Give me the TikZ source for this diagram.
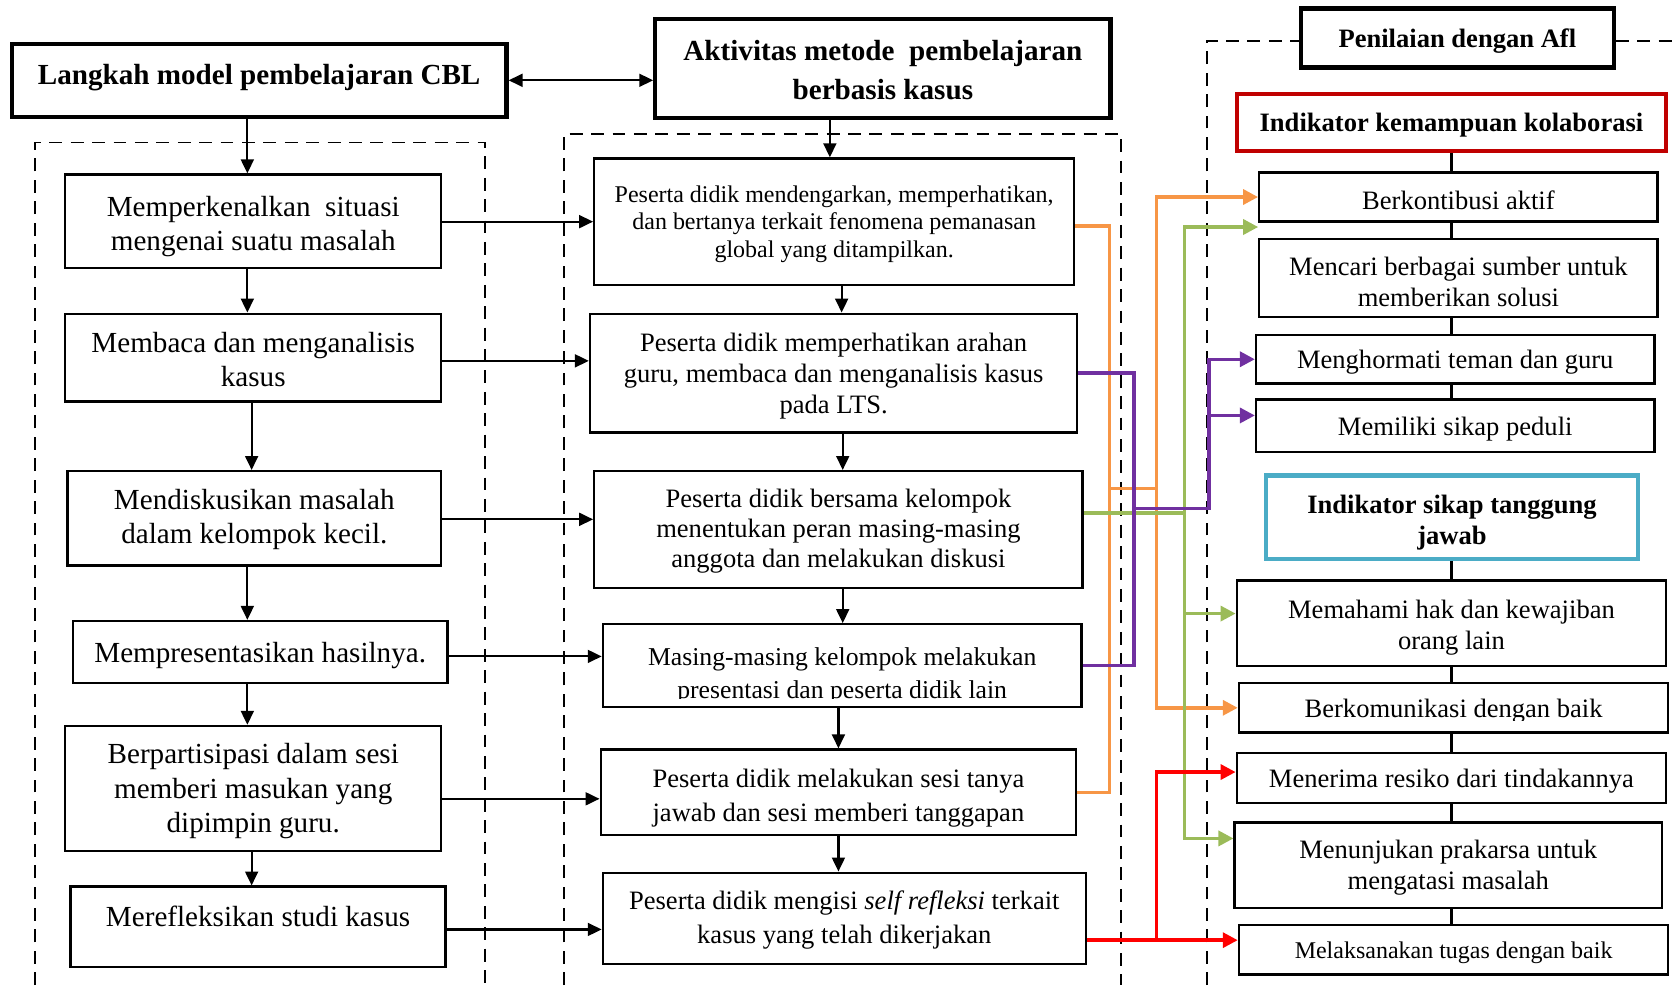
\documentclass[tikz,border=0pt]{standalone}
\usepackage{fontspec}
\setmainfont{Liberation Serif}
\usetikzlibrary{arrows.meta}
\definecolor{oranye}{HTML}{F79646}
\definecolor{hijau}{HTML}{9BBB59}
\definecolor{ungu}{HTML}{7030A0}
\definecolor{merah}{HTML}{FF0000}
\definecolor{merahtua}{HTML}{C00000}
\definecolor{biru}{HTML}{4BACC6}
\newcommand{\turun}[1]{\rule{0pt}{#1}}

\begin{document}
\begin{tikzpicture}[x=0.5pt,y=-0.5pt,
    kotak/.style={draw,line width=1.1pt,align=center,inner sep=0pt,
      execute at begin node={\rule{0pt}{0.92em}}},
    kiri/.style={kotak,font=\fontsize{13.6}{16}\selectfont},
    tengah/.style={kotak,font=\fontsize{12.4}{14.5}\selectfont},
    kanan/.style={kotak,font=\fontsize{12.4}{14.5}\selectfont},
    judul/.style={kotak,line width=2pt,font=\bfseries\fontsize{13.6}{18.5}\selectfont},
    panah/.style={line width=1pt,-{Triangle[length=6.5pt,width=6pt]}},
    warna/.style={line width=1.6pt},
    ujung/.style={-{Triangle[length=7pt,width=7pt]}},
    garis/.style={line width=1pt},
    putus/.style={line width=0.8pt,dash pattern=on 6pt off 4pt}]
  \useasboundingbox (0,0) rectangle (1568,920);

  % kerangka putus-putus
  \draw[putus] (33,920) -- (33,133) -- (453,133) -- (453,920);
  \draw[putus] (527,920) -- (527,125) -- (1047,125) -- (1047,920);

  % judul
  \node[judul,minimum width=231pt,minimum height=34pt,text depth=8.5pt] (h1) at (242,75) {Langkah model pembelajaran CBL};
  \node[judul,minimum width=212.5pt,minimum height=46pt] (h2) at (824.5,64) {\turun{10.9pt}Aktivitas metode\ \ pembelajaran\\berbasis kasus};
  \node[judul,font=\bfseries\fontsize{12.4}{14.5}\selectfont,minimum width=146pt,minimum height=27.5pt] (h3) at (1361,35.5) {Penilaian dengan Afl};
  \draw[putus] (1127,920) -- (1127,38) -- (h3.west |- 0,38);
  \draw[putus] (h3.east |- 0,38) -- (1568,38);

  % langkah CBL
  \node[kiri,minimum width=175.5pt,minimum height=43.5pt,text depth=0pt] (l1) at (236.5,206.5) {\turun{11.3pt}Memperkenalkan\ \ situasi\\mengenai suatu masalah};
  \node[kiri,minimum width=175.5pt,minimum height=41pt] (l2) at (236.5,334) {\turun{11.3pt}Membaca dan menganalisis\\kasus};
  \node[kiri,minimum width=174.5pt,minimum height=44pt,text depth=2pt] (l3) at (237.5,484) {Mendiskusikan masalah\\dalam kelompok kecil.};
  \node[kiri,minimum width=175pt,minimum height=29pt] (l4) at (243,609) {Mempresentasikan hasilnya.};
  \node[kiri,minimum width=175.5pt,minimum height=58.5pt,text depth=0.5pt] (l5) at (236.5,736.5) {Berpartisipasi dalam sesi\\memberi masukan yang\\dipimpin guru.};
  \node[kiri,minimum width=175pt,minimum height=37.5pt,text depth=12.5pt] (l6) at (241,865.5) {Merefleksikan studi kasus};

  % aktivitas
  \node[kotak,font=\fontsize{11.2}{12.75}\selectfont,minimum width=224pt,minimum height=59pt,text depth=0pt] (m1) at (779,207) {Peserta didik mendengarkan, memperhatikan,\\dan bertanya terkait fenomena pemanasan\\global yang ditampilkan.};
  \node[tengah,minimum width=227.5pt,minimum height=55.5pt,text depth=0pt] (m2) at (778.5,348.5) {Peserta didik memperhatikan arahan\\guru, membaca dan menganalisis kasus\\pada LTS.};
  \node[tengah,font=\fontsize{12.4}{14}\selectfont,minimum width=228pt,minimum height=54.5pt,text depth=1.2pt] (m3) at (783,494.5) {Peserta didik bersama kelompok\\menentukan peran masing-masing\\anggota dan melakukan diskusi};
  \node[tengah,minimum width=223.5pt,minimum height=38.5pt] (m4) at (786.5,621.5) {};
  \begin{scope}
    \clip (563,583) rectangle (1010,652);
    \node[align=center,inner sep=0pt,font=\fontsize{12}{15.5}\selectfont] (m4t) at (786.5,631) {Masing-masing kelompok melakukan\\presentasi dan peserta didik lain};
  \end{scope}
  \node[tengah,font=\fontsize{12.4}{16}\selectfont,minimum width=222pt,minimum height=40pt,text depth=0pt] (m5) at (783,740) {\turun{11.5pt}Peserta didik melakukan sesi tanya\\jawab dan sesi memberi tanggapan};
  \node[tengah,font=\fontsize{12.4}{16}\selectfont,minimum width=225.5pt,minimum height=42.5pt,text depth=0.7pt] (m6) at (788.5,857.5) {Peserta didik mengisi \textit{self refleksi} terkait\\kasus yang telah dikerjakan};

  % indikator
  \node[kotak,draw=merahtua,line width=2pt,font=\bfseries\fontsize{12.4}{14.5}\selectfont,minimum width=200.5pt,minimum height=26.5pt] (r0) at (1355.5,114.5) {Indikator kemampuan kolaborasi};
  \node[kanan,minimum width=186pt,minimum height=23pt] (r1) at (1362,184) {Berkontibusi aktif};
  \node[kanan,minimum width=186pt,minimum height=36.5pt] (r2) at (1362,259.5) {\turun{12.5pt}Mencari berbagai sumber untuk\\memberikan solusi};
  \node[kanan,minimum width=186pt,minimum height=22.5pt] (r3) at (1359,335.5) {Menghormati teman dan guru};
  \node[kanan,minimum width=186pt,minimum height=24.5pt] (r4) at (1359,397.5) {Memiliki sikap peduli};
  \node[kotak,draw=biru,line width=2pt,font=\bfseries\fontsize{12.4}{14.5}\selectfont,minimum width=174pt,minimum height=39pt,text depth=0pt] (r5) at (1356,483) {\turun{10.6pt}Indikator sikap tanggung\\jawab};
  \node[kanan,minimum width=200.5pt,minimum height=40pt,text depth=0pt] (r6) at (1355.5,582) {\turun{10.5pt}Memahami hak dan kewajiban\\orang lain};
  \node[kanan,minimum width=200.5pt,minimum height=23pt] (r7) at (1357.5,661) {};
  \begin{scope}
    \clip (1157,638) rectangle (1558,673);
    \node[inner sep=0pt,font=\fontsize{12.4}{14.5}\selectfont] (r7t) at (1357.5,664) {Berkomunikasi dengan baik};
  \end{scope}
  \node[kanan,minimum width=200.5pt,minimum height=23.5pt] (r8) at (1355.5,726.5) {Menerima resiko dari tindakannya};
  \node[kanan,minimum width=199.5pt,minimum height=40pt,text depth=0.7pt] (r9) at (1352.5,808) {Menunjukan prakarsa untuk\\mengatasi masalah};
  \node[kanan,font=\fontsize{11.2}{13}\selectfont,minimum width=200.5pt,minimum height=23pt] (r10) at (1357.5,887) {Melaksanakan tugas dengan baik};

  % panah hitam
  \draw[line width=1pt,{Triangle[length=6.5pt,width=6pt]}-{Triangle[length=6.5pt,width=6pt]}] (h1.east) -- (h1.east -| h2.west);
  \draw[panah] (h1.south -| 231,0) -- (l1.north -| 231,0);
  \draw[panah] (h2.south -| 775,0) -- (m1.north -| 775,0);
  \foreach \a/\b/\x in {l1/l2/231,l2/l3/235,l3/l4/231,l4/l5/231,l5/l6/235,
                        m1/m2/786,m2/m3/787,m3/m4/787,m4/m5/783,m5/m6/783}
    \draw[panah] (\a.south -| \x,0) -- (\b.north -| \x,0);
  \foreach \a/\b/\y in {l1/m1/207,l2/m2/337,l3/m3/485,l4/m4/613,l5/m5/746,l6/m6/868}
    \draw[panah] (\a.east |- 0,\y) -- (\b.west |- 0,\y);
  \foreach \a/\b in {r0/r1,r1/r2,r2/r3,r3/r4,r5/r6,r6/r7,r7/r8,r8/r9,r9/r10}
    \draw[garis] (\a.south -| r0.south) -- (\b.north -| r0.south);

  % titik simpang
  \coordinate (o1) at (1036,456);
  \coordinate (o2) at (1080,456);
  \coordinate (g1) at (1106,479);
  \coordinate (gk) at (1175,212);
  \coordinate (u1) at (1059,475);
  \coordinate (u2) at (1129,475);
  \coordinate (k1) at (1080,878);

  % penghubung berwarna
  \draw[warna,oranye,ujung] (m1.east |- 0,211) -| (o1) -- (o2) |- (r1.west);
  \draw[warna,oranye] (m5.east) -| (o1);
  \draw[warna,oranye,ujung] (o2) |- (r7.west);
  \draw[warna,hijau,ujung] (m3.east |- g1) -- (g1) |- (gk);
  \draw[warna,hijau,ujung] (g1) |- (r9.west |- 0,783);
  \draw[warna,hijau,ujung] (g1 |- 0,573) -- (r6.west |- 0,573);
  \draw[warna,ungu,ujung] (m2.east) -| (u1) -- (u2) |- (r3.west);
  \draw[warna,ungu] (m4.east) -| (u1);
  \draw[warna,ungu,ujung] (u2 |- 0,388) -- (r4.west |- 0,388);
  \draw[warna,merah,ujung] (m6.east |- k1) -- (r10.west |- k1);
  \draw[warna,merah,ujung] (k1) |- (r8.west |- 0,721);
\end{tikzpicture}
\end{document}
